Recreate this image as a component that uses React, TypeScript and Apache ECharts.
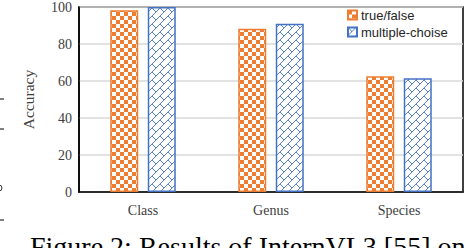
import React, { useEffect, useRef } from "react";
import * as echarts from "echarts";

const categories = ["Class", "Genus", "Species"];
const seriesNames = ["true/false", "multiple-choise"];
const trueFalse = [98.3, 88.2, 62.6];
const multipleChoice = [100, 91.0, 61.5];
const yTicks = { min: 0, max: 100, interval: 20 };
const caption = "Figure 2: Results of InternVL3 [55] on";

const ORANGE = "#ED7D31";
const BLUE = "#4472C4";

function checkerPattern() {
  const c = document.createElement("canvas");
  c.width = 8;
  c.height = 8;
  const g = c.getContext("2d")!;
  g.fillStyle = "#ffffff";
  g.fillRect(0, 0, 8, 8);
  g.fillStyle = ORANGE;
  g.fillRect(0, 0, 4, 4);
  g.fillRect(4, 4, 4, 4);
  return { image: c.toDataURL(), imageWidth: 8, imageHeight: 8, repeat: "repeat" };
}

function weavePattern() {
  const p = 8;
  const c = document.createElement("canvas");
  c.width = p;
  c.height = p;
  const g = c.getContext("2d")!;
  g.fillStyle = "#ffffff";
  g.fillRect(0, 0, p, p);
  g.strokeStyle = "#5b7fc9";
  g.lineWidth = 1;
  for (let ox = -p; ox <= p; ox += p) {
    for (let oy = -p; oy <= p; oy += p) {
      g.beginPath();
      g.moveTo(ox + 0, oy + p);
      g.lineTo(ox + p, oy + 0);
      g.stroke();
      g.beginPath();
      g.moveTo(ox + 0, oy + 0);
      g.lineTo(ox + p / 2, oy + p / 2);
      g.stroke();
    }
  }
  return { image: c.toDataURL(), imageWidth: p, imageHeight: p, repeat: "repeat" };
}

export default function App() {
  const ref = useRef<HTMLDivElement>(null);
  useEffect(() => {
    if (!ref.current) return;
    const chart = echarts.init(ref.current, null, { renderer: "svg" });
    const serif = "'Liberation Serif', 'Times New Roman', serif";
    const sans = "'Liberation Sans', Arial, sans-serif";
    chart.setOption({
      animation: false,
      backgroundColor: "#ffffff",
      grid: {
        left: 79,
        right: 3,
        top: 5,
        bottom: 56,
        show: true,
        borderColor: "#000000",
        borderWidth: 1.5,
        containLabel: false,
      },
      legend: {
        orient: "vertical",
        left: 347,
        top: 8.5,
        padding: 0,
        itemWidth: 9,
        itemHeight: 9,
        itemGap: 4,
        icon: "rect",
        textStyle: { fontFamily: sans, fontSize: 13, color: "#262626", lineHeight: 13, padding: [0, 0, 0, -1] },
        data: seriesNames,
      },
      xAxis: {
        type: "category",
        data: categories,
        axisLine: { lineStyle: { color: "#000000", width: 1.5 } },
        axisTick: { show: false },
        axisLabel: { fontFamily: serif, fontSize: 14, color: "#404040", margin: 11 },
      },
      yAxis: {
        type: "value",
        min: yTicks.min,
        max: yTicks.max,
        interval: yTicks.interval,
        name: "Accuracy",
        nameLocation: "middle",
        nameRotate: 90,
        nameGap: 43,
        nameTextStyle: { fontFamily: serif, fontSize: 15.5, color: "#404040" },
        axisLine: { show: true, lineStyle: { color: "#000000", width: 1.5 } },
        axisTick: { show: false },
        axisLabel: { fontFamily: serif, fontSize: 14, color: "#404040", margin: 7 },
        splitLine: { lineStyle: { color: "#d9d9d9", width: 1.5 } },
      },
      series: [
        {
          name: seriesNames[0],
          type: "bar",
          data: trueFalse,
          barWidth: 28,
          barGap: "34%",
          itemStyle: { color: checkerPattern(), borderColor: ORANGE, borderWidth: 1.5 },
        },
        {
          name: seriesNames[1],
          type: "bar",
          data: multipleChoice,
          barWidth: 28,
          itemStyle: { color: weavePattern(), borderColor: BLUE, borderWidth: 1.5 },
        },
      ],
      graphic: [
        { type: "line", shape: { x1: 0, y1: 99, x2: 4, y2: 99 }, style: { stroke: "#000", lineWidth: 1 } },
        { type: "line", shape: { x1: 0, y1: 129, x2: 4, y2: 129 }, style: { stroke: "#000", lineWidth: 1 } },
        { type: "line", shape: { x1: 0, y1: 220, x2: 4, y2: 220 }, style: { stroke: "#000", lineWidth: 1 } },
        {
          type: "arc",
          shape: { cx: -1, cy: 188, r: 3, startAngle: -Math.PI / 2, endAngle: Math.PI / 2 },
          style: { stroke: "#333", lineWidth: 1, fill: "none" },
        },
        {
          type: "text",
          left: 30,
          top: 232,
          style: { text: caption, font: "28px 'Liberation Serif', 'Times New Roman', serif", fill: "#000" },
        },
      ],
    });
    return () => chart.dispose();
  }, []);
  return <div ref={ref} style={{ width: 466, height: 248, position: "absolute", left: 0, top: 0 }} />;
}
